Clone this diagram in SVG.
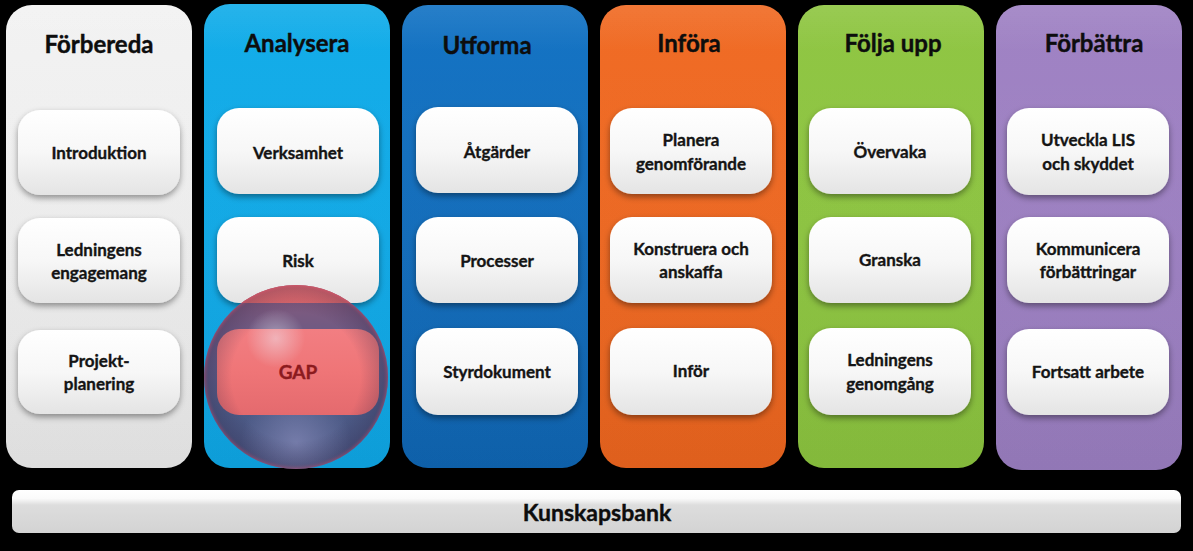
<svg xmlns="http://www.w3.org/2000/svg" width="1193" height="551" viewBox="0 0 1193 551">
<defs>
<style>
.hdr{font-family:Lato,"Liberation Sans",sans-serif;font-weight:bold;font-size:24px;fill:#0d0d0d;stroke:#0d0d0d;stroke-width:0.4;text-anchor:middle}
.lbl{font-family:Lato,"Liberation Sans",sans-serif;font-weight:bold;font-size:17px;fill:#141414;stroke:#141414;stroke-width:0.35;text-anchor:middle}
.box{fill:url(#gBox);filter:url(#sh)}
.pink{fill:url(#gPink)}
.gloss{fill:url(#gGloss)}
</style>
<filter id="sh" x="-20%" y="-20%" width="140%" height="150%">
<feDropShadow dx="0" dy="3" stdDeviation="3" flood-color="#000" flood-opacity="0.4"/>
</filter>
<linearGradient id="gBox" x1="0" y1="0" x2="0" y2="1">
<stop offset="0" stop-color="#ffffff"/><stop offset="0.5" stop-color="#f7f7f7"/><stop offset="1" stop-color="#e4e4e4"/>
</linearGradient>
<linearGradient id="gPink" x1="0" y1="0" x2="0" y2="1">
<stop offset="0" stop-color="#f27e82"/><stop offset="0.5" stop-color="#ef7577"/><stop offset="1" stop-color="#e46a6e"/>
</linearGradient>
<linearGradient id="gGloss" x1="0" y1="0" x2="0" y2="1">
<stop offset="0" stop-color="#fff" stop-opacity="0.08"/><stop offset="0.1" stop-color="#fff" stop-opacity="0"/><stop offset="1" stop-color="#000" stop-opacity="0.05"/>
</linearGradient>
<linearGradient id="g1" x1="0" y1="0" x2="0" y2="1"><stop offset="0" stop-color="#f2f2f2"/><stop offset="1" stop-color="#e9e9e9"/></linearGradient>
<linearGradient id="g2" x1="0" y1="0" x2="0" y2="1"><stop offset="0" stop-color="#14ade9"/><stop offset="1" stop-color="#0ea5e3"/></linearGradient>
<linearGradient id="g3" x1="0" y1="0" x2="0" y2="1"><stop offset="0" stop-color="#1574c4"/><stop offset="1" stop-color="#0f65b2"/></linearGradient>
<linearGradient id="g4" x1="0" y1="0" x2="0" y2="1"><stop offset="0" stop-color="#f06c26"/><stop offset="1" stop-color="#ea641e"/></linearGradient>
<linearGradient id="g5" x1="0" y1="0" x2="0" y2="1"><stop offset="0" stop-color="#90c644"/><stop offset="1" stop-color="#8ac23e"/></linearGradient>
<linearGradient id="g6" x1="0" y1="0" x2="0" y2="1"><stop offset="0" stop-color="#a083c4"/><stop offset="1" stop-color="#997dbf"/></linearGradient>
<linearGradient id="gBar" x1="0" y1="0" x2="0" y2="1">
<stop offset="0" stop-color="#ffffff"/><stop offset="0.2" stop-color="#fafafa"/><stop offset="0.35" stop-color="#dddddd"/><stop offset="1" stop-color="#d3d3d3"/>
</linearGradient>
<linearGradient id="gSph" x1="0" y1="0" x2="0" y2="1">
<stop offset="0" stop-color="#8a5a7c"/><stop offset="0.3" stop-color="#6a5a84"/><stop offset="0.7" stop-color="#4c5a86"/><stop offset="1" stop-color="#4a5682"/>
</linearGradient>
<radialGradient id="gHi" cx="0.39" cy="0.29" r="0.16">
<stop offset="0" stop-color="#f0f4ff" stop-opacity="0.45"/><stop offset="1" stop-color="#f0f4ff" stop-opacity="0"/>
</radialGradient>
<radialGradient id="gHi2" cx="0.5" cy="0.86" r="0.3">
<stop offset="0" stop-color="#a8a8d8" stop-opacity="0.45"/><stop offset="1" stop-color="#a8a8d8" stop-opacity="0"/>
</radialGradient>
<radialGradient id="gRim" cx="0.5" cy="0.5" r="0.5">
<stop offset="0.7" stop-color="#2a2040" stop-opacity="0"/><stop offset="0.95" stop-color="#2a2040" stop-opacity="0.25"/><stop offset="1" stop-color="#b04060" stop-opacity="0.5"/>
</radialGradient>
<clipPath id="cSph"><circle cx="296" cy="377" r="92"/></clipPath>
</defs>
<rect width="1193" height="551" fill="#000"/>

<g id="col-forbereda">
<rect x="6" y="5" width="186" height="463" rx="26" fill="url(#g1)"/>
<rect x="6" y="5" width="186" height="463" rx="26" class="gloss"/>
<text x="99" y="53" class="hdr">Förbereda</text>
</g>
<g id="col-analysera">
<rect x="204" y="4" width="186" height="464" rx="26" fill="url(#g2)"/>
<rect x="204" y="4" width="186" height="464" rx="26" class="gloss"/>
<text x="297" y="52" class="hdr">Analysera</text>
</g>
<g id="col-utforma">
<rect x="402" y="5" width="186" height="463" rx="26" fill="url(#g3)"/>
<rect x="402" y="5" width="186" height="463" rx="26" class="gloss"/>
<text x="487" y="54" class="hdr">Utforma</text>
</g>
<g id="col-infora">
<rect x="600" y="5" width="186" height="463" rx="26" fill="url(#g4)"/>
<rect x="600" y="5" width="186" height="463" rx="26" class="gloss"/>
<text x="689" y="52" class="hdr">Införa</text>
</g>
<g id="col-folja">
<rect x="798" y="5" width="186" height="463" rx="26" fill="url(#g5)"/>
<rect x="798" y="5" width="186" height="463" rx="26" class="gloss"/>
<text x="893" y="52" class="hdr">Följa upp</text>
</g>
<g id="col-forbattra">
<rect x="996" y="5" width="186" height="465" rx="26" fill="url(#g6)"/>
<rect x="996" y="5" width="186" height="465" rx="26" class="gloss"/>
<text x="1094" y="52" class="hdr">Förbättra</text>
</g>

<g id="n-introduktion"><rect x="18" y="110" width="162" height="85" rx="22" class="box"/><text x="99" y="159" class="lbl">Introduktion</text></g>
<g id="n-ledningens-engagemang"><rect x="18" y="218" width="162" height="85" rx="22" class="box"/><text x="99" y="256" class="lbl">Ledningens</text><text x="99" y="279" class="lbl">engagemang</text></g>
<g id="n-projektplanering"><rect x="18" y="330" width="162" height="84" rx="22" class="box"/><text x="99" y="367" class="lbl">Projekt-</text><text x="99" y="390" class="lbl">planering</text></g>

<g id="n-verksamhet"><rect x="217" y="108" width="162" height="86" rx="22" class="box"/><text x="298" y="159" class="lbl">Verksamhet</text></g>
<g id="n-risk"><rect x="217" y="217" width="162" height="86" rx="22" class="box"/><text x="298" y="267" class="lbl">Risk</text></g>

<g id="n-atgarder"><rect x="416" y="107" width="162" height="86" rx="22" class="box"/><text x="497" y="158" class="lbl">Åtgärder</text></g>
<g id="n-processer"><rect x="416" y="217" width="162" height="86" rx="22" class="box"/><text x="497" y="267" class="lbl">Processer</text></g>
<g id="n-styrdokument"><rect x="416" y="328" width="162" height="87" rx="22" class="box"/><text x="497" y="378" class="lbl">Styrdokument</text></g>

<g id="n-planera"><rect x="610" y="108" width="162" height="86" rx="22" class="box"/><text x="691" y="146" class="lbl">Planera</text><text x="691" y="170" class="lbl">genomförande</text></g>
<g id="n-konstruera"><rect x="610" y="217" width="162" height="86" rx="22" class="box"/><text x="691" y="255" class="lbl">Konstruera och</text><text x="691" y="278" class="lbl">anskaffa</text></g>
<g id="n-infor"><rect x="610" y="328" width="162" height="87" rx="22" class="box"/><text x="691" y="377" class="lbl">Inför</text></g>

<g id="n-overvaka"><rect x="809" y="108" width="162" height="86" rx="22" class="box"/><text x="890" y="158" class="lbl">Övervaka</text></g>
<g id="n-granska"><rect x="809" y="217" width="162" height="86" rx="22" class="box"/><text x="890" y="266" class="lbl">Granska</text></g>
<g id="n-ledningens-genomgang"><rect x="809" y="328" width="162" height="87" rx="22" class="box"/><text x="890" y="366" class="lbl">Ledningens</text><text x="890" y="390" class="lbl">genomgång</text></g>

<g id="n-utveckla"><rect x="1007" y="108" width="162" height="87" rx="22" class="box"/><text x="1088" y="146" class="lbl">Utveckla LIS</text><text x="1088" y="170" class="lbl">och skyddet</text></g>
<g id="n-kommunicera"><rect x="1007" y="217" width="162" height="86" rx="22" class="box"/><text x="1088" y="255" class="lbl">Kommunicera</text><text x="1088" y="278" class="lbl">förbättringar</text></g>
<g id="n-fortsatt"><rect x="1007" y="329" width="162" height="86" rx="22" class="box"/><text x="1088" y="378" class="lbl">Fortsatt arbete</text></g>

<g id="n-gap">
<circle cx="296" cy="377" r="92" fill="url(#gSph)"/>
<circle cx="296" cy="377" r="92" fill="url(#gHi2)"/>
<g clip-path="url(#cSph)">
<rect x="217" y="217" width="162" height="86" rx="22" class="pink"/>
<rect x="217" y="329" width="162" height="86" rx="22" class="pink"/>
</g>
<circle cx="296" cy="377" r="92" fill="url(#gRim)"/>
<circle cx="296" cy="377" r="92" fill="url(#gHi)"/>
<text x="298" y="379" class="lbl" style="fill:#8c1a1e;stroke:#8c1a1e;font-size:19px">GAP</text>
</g>

<g id="n-kunskapsbank">
<rect x="12" y="490" width="1169" height="43" rx="7" fill="url(#gBar)"/>
<text x="597" y="521" class="hdr" style="font-size:23px">Kunskapsbank</text>
</g>
<g id="connectors"/>
</svg>
